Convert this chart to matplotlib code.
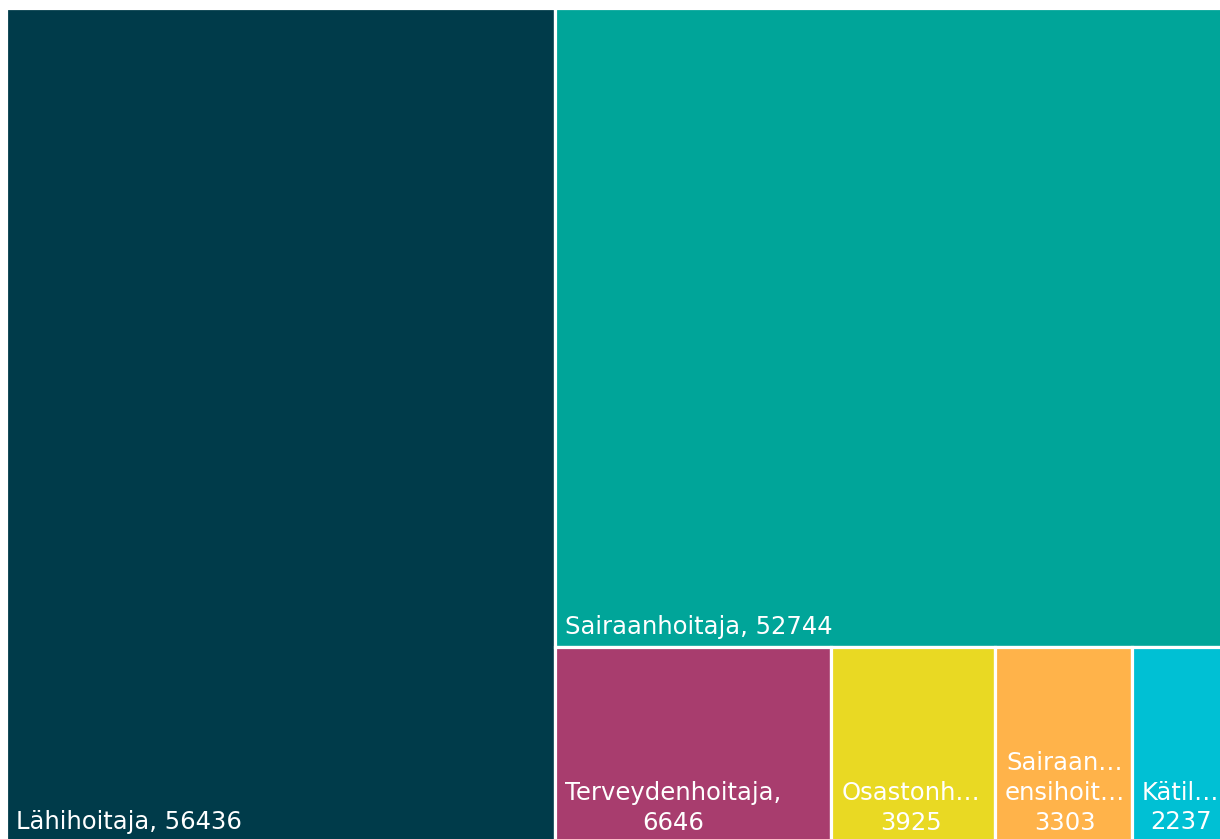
import matplotlib
matplotlib.use("Agg")
import matplotlib.pyplot as plt
from matplotlib.patches import Rectangle

# ---- data ----
categories = ["Lähihoitaja", "Sairaanhoitaja", "Terveydenhoitaja",
              "Osastonhoitaja", "Sairaanhoitaja/ensihoitaja", "Kätilö"]
values = [56436, 52744, 6646, 3925, 3303, 2237]
labels = ["Lähihoitaja, 56436", "Sairaanhoitaja, 52744", "Terveydenhoitaja,\n6646",
          "Osastonh…\n3925", "Sairaan…\nensihoit…\n3303", "Kätil…\n2237"]
colors = ["#003b4a", "#00a599", "#a83d6e", "#e9d923", "#ffb34a", "#00c0d4"]


# ---- squarified treemap layout ----
def worst(row, side):
    s = sum(row)
    return max(max(side * side * r / (s * s), s * s / (side * side * r)) for r in row)


def layout_row(row, x, y, w, h):
    s = sum(row)
    rects = []
    if w >= h:  # column along the left side
        cw = s / h
        cy = y + h
        for r in row:
            rh = r / cw
            cy -= rh
            rects.append((x, cy, cw, rh))
        return rects, (x + cw, y, w - cw, h)
    else:  # row along the top side
        rh = s / w
        cx = x
        for r in row:
            rw = r / rh
            rects.append((cx, y + h - rh, rw, rh))
            cx += rw
        return rects, (x, y, w, h - rh)


def squarify(areas, x, y, w, h):
    rects = []
    areas = list(areas)
    row = []
    while areas:
        side = min(w, h)
        a = areas[0]
        if not row or worst(row + [a], side) <= worst(row, side):
            row.append(a)
            areas.pop(0)
        else:
            r, (x, y, w, h) = layout_row(row, x, y, w, h)
            rects += r
            row = []
    if row:
        r, _ = layout_row(row, x, y, w, h)
        rects += r
    return rects


W, H = 1219.0, 834.0
total = sum(values)
areas = [v / total * W * H for v in values]
rects = squarify(areas, 0, 0, W, H)

fig = plt.figure(figsize=(12.2, 8.39), dpi=100)
ax = fig.add_axes([6 / 1220, -3 / 839, W / 1220, H / 839])
ax.set_xlim(0, W)
ax.set_ylim(0, H)
ax.axis("off")

for (rx, ry, rw, rh), c, lab in zip(rects, colors, labels):
    ax.add_patch(Rectangle((rx, ry), rw, rh, facecolor=c, edgecolor="white",
                           linewidth=2.3, clip_on=False))
    ax.text(rx + 10, ry + 12.5, lab, color="white", fontsize=17.5,
            family="DejaVu Sans", ha="left", va="baseline",
            multialignment="center", linespacing=1.3)

fig.savefig("out.png", dpi=100)
